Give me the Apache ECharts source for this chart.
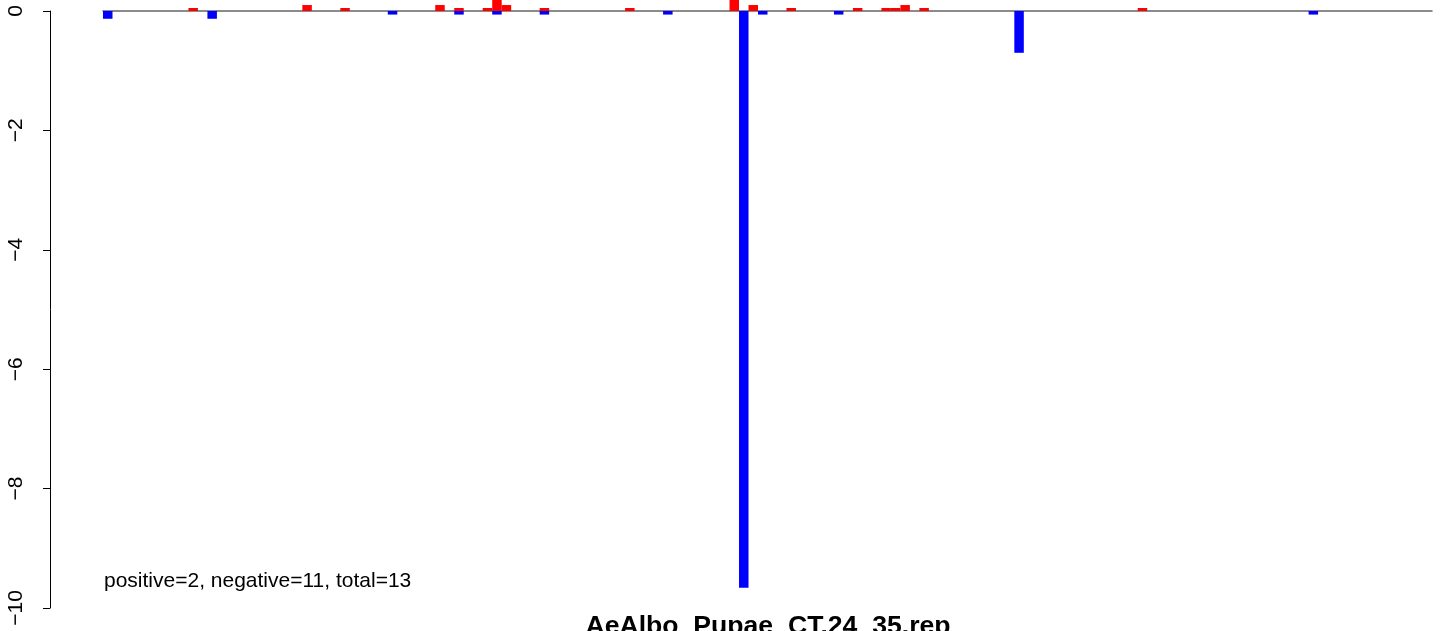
<!DOCTYPE html>
<html>
<head>
<meta charset="utf-8">
<script src="https://cdn.jsdelivr.net/npm/echarts@6/dist/echarts.min.js"></script>
<style>
html,body{margin:0;padding:0;background:#fff;}
#chart{width:1444px;height:631px;}
</style>
</head>
<body>
<div id="chart"></div>
<script>
// 140 bar positions (indices 0..139)
const nBars = 140;
const categories = Array.from({length: nBars}, (_, i) => String(i + 1));

// positive (red) bars: [index, value]
const positiveBars = [
  [9, 0.05], [21, 0.1], [25, 0.05], [35, 0.1], [37, 0.05], [40, 0.05],
  [41, 0.2], [42, 0.1], [46, 0.05], [55, 0.05], [66, 0.2], [68, 0.1],
  [72, 0.05], [79, 0.05], [82, 0.05], [83, 0.05], [84, 0.1], [86, 0.05],
  [109, 0.05]
];

// negative (blue) bars: [index, value]
const negativeBars = [
  [0, -0.13], [11, -0.13], [30, -0.06], [37, -0.06], [41, -0.06],
  [46, -0.06], [59, -0.06], [67, -9.66], [69, -0.06], [77, -0.06],
  [96, -0.70], [127, -0.06]
];

const yTicks = [-10, -8, -6, -4, -2, 0];
const titleText = 'AeAlbo_Pupae_CT.24_35.rep';
const noteText = 'positive=2, negative=11, total=13';

const chart = echarts.init(document.getElementById('chart'), null, {renderer: 'canvas'});
const FONT = '"Liberation Sans", Arial, Helvetica, sans-serif';

chart.setOption({
  animation: false,
  backgroundColor: '#ffffff',
  title: {
    text: titleText,
    left: 768,
    top: 613,
    textAlign: 'center',
    padding: 0,
    textStyle: {fontFamily: FONT, fontSize: 26.6, fontWeight: 'bold', color: '#000'}
  },
  graphic: [{
    type: 'text',
    left: 104,
    top: 571,
    style: {text: noteText, fontFamily: FONT, fontSize: 21, fill: '#000'}
  }],
  grid: {left: 103, right: 12, top: 11, bottom: 23, containLabel: false},
  xAxis: {
    type: 'category',
    data: categories,
    axisLine: {show: true, onZero: true, lineStyle: {color: '#666', width: 1.5}},
    axisTick: {show: false},
    axisLabel: {show: false},
    splitLine: {show: false}
  },
  yAxis: {
    type: 'value',
    min: -10,
    max: 0,
    interval: 2,
    offset: 53,
    axisLine: {show: true, lineStyle: {color: '#000', width: 1}},
    axisTick: {show: true, length: 7, lineStyle: {color: '#000', width: 1}},
    axisLabel: {
      show: true,
      rotate: 90,
      margin: 23,
      fontFamily: FONT,
      fontSize: 21,
      color: '#000',
      formatter: v => yTicks.indexOf(v) >= 0 ? (v < 0 ? '\u2212' + Math.abs(v) : String(v)) : ''
    },
    splitLine: {show: false}
  },
  series: [
    {
      name: 'positive',
      type: 'bar',
      data: positiveBars,
      itemStyle: {color: '#ff0000'},
      barGap: '-100%',
      barCategoryGap: '0%',
      clip: false
    },
    {
      name: 'negative',
      type: 'bar',
      data: negativeBars,
      itemStyle: {color: '#0000ff'},
      barGap: '-100%',
      barCategoryGap: '0%',
      clip: false
    }
  ]
});
</script>
</body>
</html>
